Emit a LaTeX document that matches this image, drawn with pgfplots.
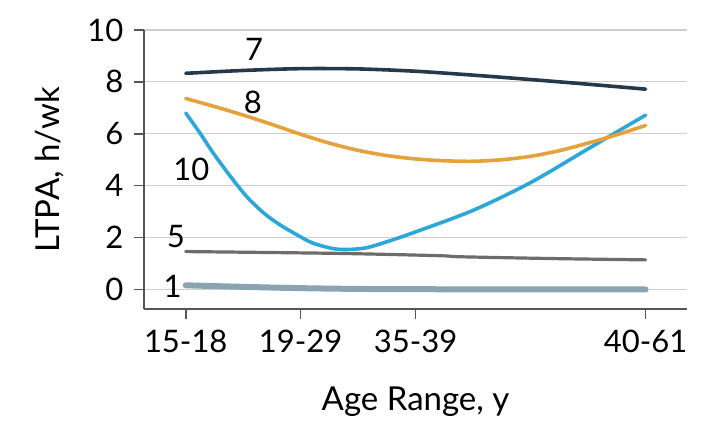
\documentclass[border=0pt]{standalone}
\usepackage{fontspec}
\setmainfont{Lato}
\usepackage{pgfplots}
\pgfplotsset{compat=1.18}
\definecolor{cseven}{HTML}{26394A}
\definecolor{ceight}{HTML}{E5A23A}
\definecolor{cten}{HTML}{2DA7D8}
\definecolor{cfive}{HTML}{6E6C6A}
\definecolor{cone}{HTML}{8BA4B2}
\definecolor{axisgray}{HTML}{555555}
\definecolor{gridgray}{HTML}{CFCFCF}
\begin{document}
\fontsize{15.5}{19}\selectfont
\begin{tikzpicture}
\path[use as bounding box] (-72pt,-58.5pt) rectangle (285pt,154.5pt);
\begin{axis}[
  at={(0,0)}, anchor=south west,
  scale only axis, width=271.5pt, height=139.5pt,
  xmin=-0.363, xmax=4.36, ymin=-0.753, ymax=10,
  axis x line*=bottom, axis y line*=left,
  axis line style={-, draw=axisgray, line width=0.8pt},
  xtick={0,1,2,4}, xticklabels={15-18,19-29,35-39,40-61},
  ytick={0,2,4,6,8,10},
  ymajorgrids, grid style={gridgray, line width=0.6pt},
  tick align=outside, major tick length=5pt,
  tick style={axisgray, line width=0.8pt},
  /pgf/number format/assume math mode=true,
  ticklabel style={font=\fontsize{15.5}{19}\selectfont},
  label style={font=\fontsize{16.5}{20}\selectfont},
  xlabel={Age Range, y}, ylabel={LTPA, h/wk},
  xlabel style={at={(axis description cs:0.5,-0.332)}, anchor=center},
  ylabel style={at={(axis description cs:-0.173,0.5)}, anchor=center},
  clip=false,
]
% series 1
\addplot[cone, line width=3pt, smooth, line cap=round] coordinates {
 (0,0.16) (0.5,0.10) (1,0.05) (1.5,0.02) (2,0.01) (3,0.0) (4,0.0)};
% series 5
\addplot[cfive, line width=1.6pt, smooth, line cap=round] coordinates {
 (0,1.46) (1.32,1.39) (2.21,1.30) (2.39,1.26) (3.2,1.19) (4,1.14)};
% series 10
\addplot[cten, line width=1.8pt, smooth, tension=0.5, line cap=round] coordinates {
 (0,6.80) (0.125,6.02) (0.24,5.25) (0.39,4.35) (0.53,3.58) (0.68,2.94)
 (0.82,2.49) (0.97,2.10) (1.11,1.78) (1.32,1.55) (1.55,1.59) (1.75,1.84)
 (2.0,2.22) (2.5,3.05) (3.0,4.12) (3.5,5.42) (4,6.72)};
% series 8
\addplot[ceight, line width=1.8pt, smooth, line cap=round] coordinates {
 (0,7.36) (0.25,7.05) (0.5,6.72) (0.75,6.36) (1.0,5.98) (1.25,5.64)
 (1.5,5.36) (1.75,5.16) (2.0,5.03) (2.25,4.96) (2.5,4.94) (2.75,5.00)
 (3.0,5.13) (3.25,5.35) (3.5,5.64) (3.75,5.96) (4.0,6.32)};
% series 7
\addplot[cseven, line width=1.8pt, smooth, line cap=round] coordinates {
 (0,8.33) (0.5,8.44) (1.0,8.51) (1.5,8.50) (2.0,8.41) (2.5,8.26) (3.0,8.09) (3.5,7.91) (4,7.72)};
\node at (axis cs:0.595,9.27) {7};
\node at (axis cs:0.585,7.21) {8};
\node at (axis cs:0.05,4.64) {10};
\node at (axis cs:-0.086,2.03) {5};
\node at (axis cs:-0.115,0.11) {1};
\end{axis}
\end{tikzpicture}
\end{document}
